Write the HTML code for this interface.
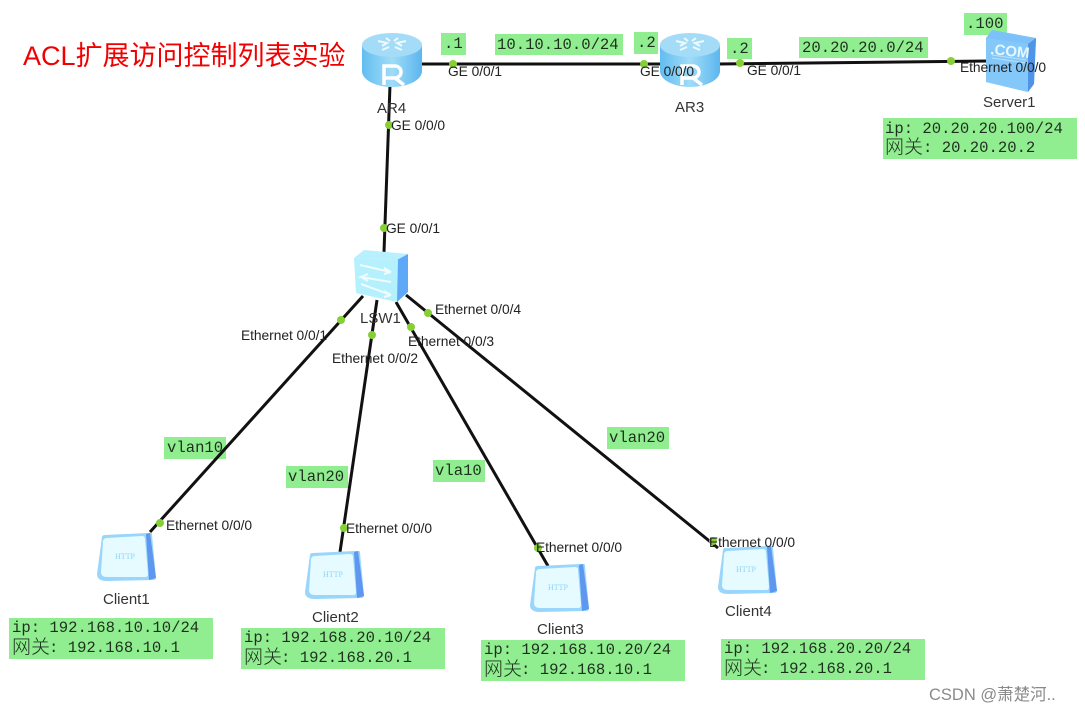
<!DOCTYPE html>
<html><head><meta charset="utf-8"><style>
html,body{margin:0;padding:0;background:#fff}
svg{display:block}
.l{font:13.8px "Liberation Sans",sans-serif;fill:#222;letter-spacing:-.05px}
.n{font:15px "Liberation Sans",sans-serif;fill:#333}
.m{font:15.6px "Liberation Mono","Noto Sans CJK SC",monospace;fill:#1f2f1f}
.c{font:300 19px "Noto Sans CJK SC",sans-serif;fill:#1f2f1f}
</style></head><body>
<svg width="1085" height="713" viewBox="0 0 1085 713" xmlns="http://www.w3.org/2000/svg">
<defs>
<linearGradient id="r" x1="0" x2="1" y1="0" y2="0"><stop offset="0" stop-color="#62bdf0"/><stop offset=".5" stop-color="#9fdcf8"/><stop offset="1" stop-color="#5cb6ee"/></linearGradient>
<g id="router"><path d="M0 12 V38 C0 47 14 54 30 54 S60 47 60 38 V12Z" fill="url(#r)"/><ellipse cx="30" cy="12" rx="30" ry="12" fill="#a4dcf8"/><path d="M16 8l9 2-5 3M44 8l-9 2 5 3M20 17l7-3M40 17l-7-3M24 5l4 3M36 5l-4 3" stroke="#eefaff" stroke-width="2" fill="none"/><path d="M22 52V33h11a6 6 0 0 1 0 12H22M33 45l9 7" stroke="#ffffff" stroke-width="3.500" fill="none"/></g>
<g id="client"><path d="M5 4 Q5 2 8 2 L50 0 L54 0 Q55 0 55 2 L59 44 Q59 47 56 47 L10 48 Q0 48 0 41Z" fill="#9ad5fb"/><path d="M49 1 L53 0 L59 45 L52 47Z" fill="#5d97ef"/><path d="M10 5 L45 3 Q48 3 48 6 L51 41 Q51 44 48 44 L10 44 Q4 44 4 39 L6 9 Q6 5 10 5Z" fill="#e6fbff"/><text x="18" y="26" font-family="Liberation Serif,serif" font-size="8" fill="#8fd4f6">HTTP</text></g>
</defs>

<g fill="#90ee90">
<rect x="441" y="33" width="25" height="22"/><rect x="495" y="34" width="128" height="21"/><rect x="634" y="32" width="24" height="22"/>
<rect x="727" y="38" width="25" height="21"/><rect x="799" y="37" width="129" height="21"/><rect x="964" y="13" width="43" height="22"/>
<rect x="883" y="118" width="194" height="41"/>
<rect x="164" y="437" width="62" height="22"/><rect x="286" y="466" width="62" height="22"/><rect x="433" y="460" width="52" height="22"/><rect x="607" y="427" width="62" height="22"/>
<rect x="9" y="618" width="204" height="41"/><rect x="241" y="628" width="204" height="41"/><rect x="481" y="640" width="204" height="41"/><rect x="721" y="639" width="204" height="41"/>
</g>

<g stroke="#111" stroke-width="3" fill="none">
<line x1="420" y1="64" x2="665" y2="64"/><line x1="718" y1="64" x2="988" y2="61"/>
<line x1="390" y1="85" x2="384" y2="252"/>
<line x1="363" y1="296" x2="150" y2="532"/>
<line x1="377" y1="300" x2="340" y2="552"/>
<line x1="396" y1="302" x2="548" y2="566"/>
<line x1="406" y1="295" x2="718" y2="548"/>
</g>

<use href="#router" x="362" y="33"/>
<use href="#router" x="660" y="33"/>

<!-- Server -->
<path d="M986 38 L992 30 L1036 38 L1034 84 L1028 92 L986 82Z" fill="#7cc2f8"/>
<path d="M986 38 L1028 44 L1028 92 L986 82Z" fill="#84c8fa"/>
<path d="M1028 44 L1036 38 L1034 84 L1028 92Z" fill="#4f94e6"/>
<path d="M992 55 L1026 60 M992 58 L1026 63" stroke="#b8e2fc" stroke-width="1"/>
<text x="990" y="54" font-family="Liberation Sans,sans-serif" font-weight="bold" font-size="15" fill="#e6f8ff" transform="rotate(6 990 54)">.COM</text>

<!-- Switch -->
<path d="M354 258 L364 250 L408 254 L398 260Z" fill="#b8f0ff"/>
<path d="M397 260 L408 254 L408 292 L397 302Z" fill="#5ea8f8"/>
<path d="M354 258 L398 260 L397 302 L356 293Z" fill="#b5f0fd"/>
<path d="M360 265L391 272L384 268M391 272L384 274M391 282L361 277L368 274M361 277L368 281M361 284L391 295L384 291M391 295L384 297" stroke="#f0fcff" stroke-width="2" fill="none"/>

<use href="#client" x="97" y="533"/>
<use href="#client" x="305" y="551"/>
<use href="#client" x="530" y="564"/>
<use href="#client" x="718" y="546"/>

<g fill="#86cf35">
<circle cx="453" cy="64" r="4"/><circle cx="644" cy="64" r="4"/><circle cx="740" cy="63" r="4"/><circle cx="951" cy="61" r="4"/>
<circle cx="389" cy="125" r="4"/><circle cx="384" cy="228" r="4"/>
<circle cx="341" cy="320" r="4"/><circle cx="372" cy="335" r="4"/><circle cx="411" cy="327" r="4"/><circle cx="428" cy="313" r="4"/>
<circle cx="160" cy="523" r="4"/><circle cx="344" cy="528" r="4"/><circle cx="538" cy="548" r="4"/><circle cx="713" cy="541" r="4"/>
</g>

<text x="23" y="65" font-family="Liberation Sans,'Noto Sans CJK SC',sans-serif" font-size="27" fill="#f00000">ACL扩展访问控制列表实验</text>

<g class="l">
<text class="l" x="448" y="76">GE 0/0/1</text><text class="l" x="640" y="76">GE 0/0/0</text><text class="l" x="747" y="75">GE 0/0/1</text><text class="l" x="960" y="72">Ethernet 0/0/0</text>
<text class="l" x="391" y="130">GE 0/0/0</text><text class="l" x="386" y="233">GE 0/0/1</text>
<text class="l" x="241" y="340">Ethernet 0/0/1</text><text class="l" x="332" y="363">Ethernet 0/0/2</text><text class="l" x="408" y="346">Ethernet 0/0/3</text><text class="l" x="435" y="314">Ethernet 0/0/4</text>
<text class="l" x="166" y="530">Ethernet 0/0/0</text><text class="l" x="346" y="533">Ethernet 0/0/0</text><text class="l" x="536" y="552">Ethernet 0/0/0</text><text class="l" x="709" y="547">Ethernet 0/0/0</text>
</g>
<text class="n" x="377" y="113">AR4</text><text class="n" x="675" y="112">AR3</text><text class="n" x="983" y="107">Server1</text><text class="n" x="360" y="323">LSW1</text>
<text class="n" x="103" y="604">Client1</text><text class="n" x="312" y="622">Client2</text><text class="n" x="537" y="634">Client3</text><text class="n" x="725" y="616">Client4</text>

<g class="m">
<text class="m" x="444" y="48">.1</text><text class="m" x="497" y="49">10.10.10.0/24</text><text class="m" x="637" y="47">.2</text><text class="m" x="730" y="53">.2</text><text class="m" x="802" y="52">20.20.20.0/24</text><text class="m" x="966" y="28">.100</text>
<text class="m" x="167" y="452">vlan10</text><text class="m" x="288" y="481">vlan20</text><text class="m" x="435" y="475">vla10</text><text class="m" x="609" y="442">vlan20</text>

<text class="m" x="885" y="133">ip: 20.20.20.100/24</text><text class="m" x="923" y="152">: 20.20.20.2</text><text class="c" x="885" y="153">网关</text>
<text class="m" x="12" y="632">ip: 192.168.10.10/24</text><text class="m" x="49" y="652">: 192.168.10.1</text><text class="c" x="12" y="653">网关</text>
<text class="m" x="244" y="642">ip: 192.168.20.10/24</text><text class="m" x="281" y="662">: 192.168.20.1</text><text class="c" x="244" y="663">网关</text>
<text class="m" x="484" y="654">ip: 192.168.10.20/24</text><text class="m" x="521" y="674">: 192.168.10.1</text><text class="c" x="484" y="675">网关</text>
<text class="m" x="724" y="653">ip: 192.168.20.20/24</text><text class="m" x="761" y="673">: 192.168.20.1</text><text class="c" x="724" y="674">网关</text>
</g>

<text x="929" y="700" font-family="Liberation Sans,'Noto Sans CJK SC',sans-serif" font-size="16.500" fill="#8a8a8a">CSDN @萧楚河..</text>
</svg>
</body></html>
